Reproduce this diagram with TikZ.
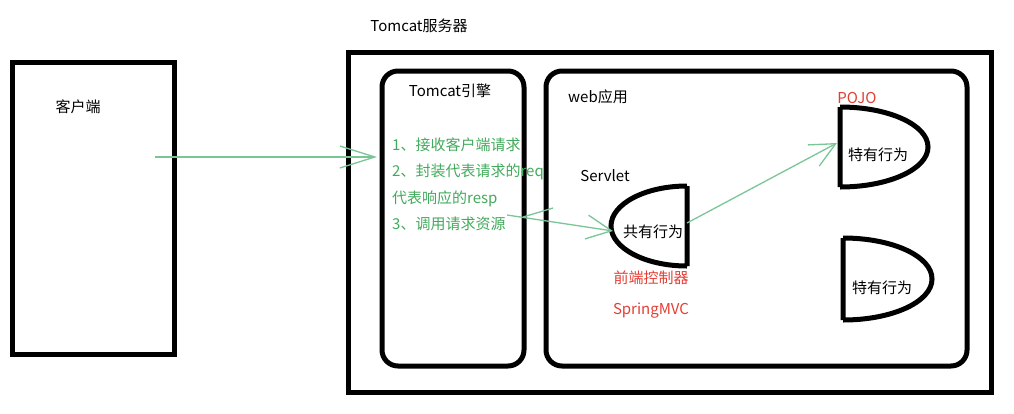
\documentclass[tikz,border=0pt]{standalone}
\usepackage{fontspec}
\setmainfont{Noto Sans CJK SC}
\usetikzlibrary{arrows.meta}

\definecolor{stepgreen}{RGB}{66,170,92}
\definecolor{linkgreen}{RGB}{122,197,150}
\definecolor{notered}{RGB}{228,62,52}

\begin{document}
\begin{tikzpicture}[
    x=1pt, y=-1pt,
    % Styling for boxes and texts
    frame/.style={draw=black, line width=5pt, inner sep=0pt},
    roundframe/.style={frame, rounded corners=16pt},
    plaintext/.style={text=black, font=\fontsize{15}{17}\selectfont, inner sep=0pt},
    steptext/.style={plaintext, text=stepgreen, anchor=west},
    redtext/.style={plaintext, text=notered},
    dshape/.style={draw=black, line width=5pt},
    link/.style={draw=linkgreen, line width=1.3pt},
    bigtip/.style={-{Straight Barb[length=35pt, width=22pt, line width=1.3pt]}},
    smalltip/.style={-{Straight Barb[length=25pt, width=24pt, line width=1.3pt]}}
]
    \useasboundingbox (0,0) rectangle (1014,413);

    % Client
    \node[frame, minimum width=162pt, minimum height=292pt] (client) at (93,208) {};
    \node[plaintext] (clientname) at (78,107) {客户端};

    % Tomcat server and its two parts
    \node[frame, minimum width=643pt, minimum height=340pt] (server) at (669.5,222) {};
    \node[plaintext] (servername) at (419,26) {Tomcat服务器};
    \node[roundframe, minimum width=142pt, minimum height=295pt] (engine) at (453,218.5) {};
    \node[plaintext] (enginename) at (450,91) {Tomcat引擎};
    \node[roundframe, minimum width=421pt, minimum height=295pt] (webapp) at (756.5,218.5) {};
    \node[plaintext] (webappname) at (598,97) {web应用};

    % Steps of the engine
    \node[steptext] (step1) at (392,145) {1、接收客户端请求};
    \node[steptext] (step2) at (392,172) {2、封装代表请求的req};
    \node[steptext] (step2b) at (392,199) {代表响应的resp};
    \node[steptext] (step3) at (392,224) {3、调用请求资源};

    % Servlet (front controller)
    \draw[dshape] (687,186) -- (687,266)
        (687,186) .. controls (645,186) and (611,204) .. (611,226)
        .. controls (611,248) and (645,266) .. (687,266);
    \node[plaintext] (servlet) at (653,232) {共有行为};
    \node[plaintext] (servletname) at (605,176) {Servlet};
    \node[redtext] (frontctrl) at (651,278) {前端控制器};
    \node[redtext] (springmvc) at (651,311) {SpringMVC};

    % POJOs
    \draw[dshape] (840,107) -- (840,187)
        (840,107) .. controls (889,107) and (928,125) .. (928,147)
        .. controls (928,169) and (889,187) .. (840,187);
    \node[plaintext] (pojoA) at (878,155) {特有行为};
    \node[redtext] (pojoname) at (857,98) {POJO};
    \draw[dshape] (843,238) -- (843,320)
        (843,238) .. controls (892,238) and (932,256) .. (932,279)
        .. controls (932,302) and (892,320) .. (843,320);
    \node[plaintext] (pojoB) at (882,288) {特有行为};

    % Request flow
    \coordinate (reqstart) at (155,157);
    \coordinate (reqend) at (377,157);
    \coordinate (callstart) at (507,215);
    \coordinate (servletL) at (613,231);
    \coordinate (servletR) at (687,223);
    \coordinate (pojoL) at (837,143);
    \coordinate (strokeA) at (523,217);
    \coordinate (strokeB) at (553,208);

    \draw[link, bigtip] (reqstart) -- (reqend);
    \draw[link, smalltip] (callstart) -- (servletL);
    \draw[link] (strokeA) -- (strokeB);
    \draw[link, smalltip] (servletR) -- (pojoL);

\end{tikzpicture}
\end{document}
